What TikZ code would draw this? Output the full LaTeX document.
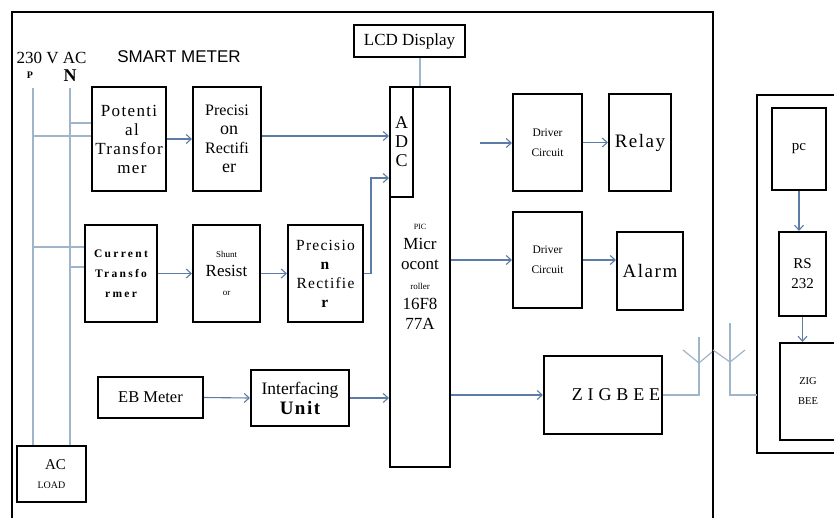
\documentclass[tikz,border=0pt]{standalone}
\usepackage{fontspec}
\setmainfont{Liberation Serif}
\setsansfont{Liberation Sans}
\newfontfamily\spaced[LetterSpace=8]{Liberation Serif}
\newfontfamily\widespaced[LetterSpace=20]{Liberation Serif}
\newfontfamily\zigfont[LetterSpace=27]{Liberation Serif}
\usetikzlibrary{arrows.meta}

\definecolor{sigblue}{RGB}{92,124,166}
\definecolor{wiregray}{RGB}{160,180,202}
\newcommand{\fsz}[2]{\fontsize{#1}{#2}\selectfont}

\tikzset{
  block/.style={draw=black, line width=2pt, inner sep=0pt, align=center},
  sig/.style={draw=sigblue, line width=1.1pt, -{Straight Barb[length=5pt,width=9pt]}},
  wire/.style={draw=wiregray, line width=1.6pt},
  frame/.style={draw=black, line width=1.6pt},
}

\begin{document}
\begin{tikzpicture}[x=1pt, y=-1pt]
    \useasboundingbox (0,0) rectangle (834,517);

    % Rahmen des Smart Meters und des PC-Teils
    \draw[frame] (12,530) -- (12,12) -- (713,12) -- (713,530);
    \coordinate (rbox) at (757,95);
    \draw[frame] (845,95) -- (rbox) -- (757,453) -- (845,453);
    \node[font=\sffamily\fsz{17}{20}] (title) at (179,56.5) {SMART METER};

    % Netzanschluss
    \node[inner sep=0pt, font=\fsz{17}{20}] (vac) at (51.5,58) {230 V AC};
    \node[inner sep=0pt, font=\bfseries\fsz{10}{12}] (p) at (30,75) {P};
    \node[inner sep=0pt, font=\bfseries\fsz{18}{20}] (n) at (70,75.5) {N};
    \coordinate (ptop) at (33,88);
    \coordinate (ntop) at (70,88);

    % Bloecke
    \node[block, minimum width=74pt, minimum height=104pt, font=\spaced\fsz{17}{19}] (ptr) at (129,139)
        {Potenti\\\hspace*{6pt}al\\Transfor\\\hspace*{6pt}mer};
    \node[block, minimum width=68pt, minimum height=104pt, font=\fsz{16}{19}] (pr1) at (227,139)
        {Precisi\\\hspace*{4pt}{\fsz{18}{19}on}\\Rectifi\\\hspace*{4pt}{\fsz{18}{19}er}};
    \node[block, minimum width=72pt, minimum height=97pt, font=\widespaced\bfseries\fsz{11.5}{20}] (ct) at (121,273.5)
        {Current\\Transfo\\rmer};
    \node[block, minimum width=67pt, minimum height=97pt, font=\fsz{17}{19}] (sr) at (226.5,273.5)
        {{\fsz{9}{11}Shunt}\\Resist\\{\fsz{9}{11}or}};
    \node[block, minimum width=75pt, minimum height=97pt, font=\spaced\fsz{15.5}{19}] (pr2) at (325.5,273.5)
        {Precisio\\\textbf{n}\\Rectifie\\\textbf{r}};
    \node[block, minimum width=111pt, minimum height=32pt, font=\fsz{17}{18}] (lcd) at (409.5,41) {LCD Display};
    \node[block, minimum width=60pt, minimum height=380pt, font=\fsz{17}{20}] (pic) at (420,277)
        {{\fsz{8}{10}PIC}\\Micr\\ocont\\{\fsz{9}{10}roller}\\16F8\\77A};
    \node[block, minimum width=23pt, minimum height=110pt, font=\fsz{18}{19}] (adc) at (401.5,142) {A\\D\\C};
    \node[block, minimum width=69pt, minimum height=97pt, font=\fsz{11.5}{20}] (dc1) at (547.5,142.5) {Driver\\Circuit};
    \node[block, minimum width=62pt, minimum height=97pt, font=\spaced\fsz{19}{20}] (relay) at (640,142.5) {Relay};
    \node[block, minimum width=69pt, minimum height=96pt, font=\fsz{11.5}{20}] (dc2) at (547.5,260) {Driver\\Circuit};
    \node[block, minimum width=66pt, minimum height=78pt, font=\spaced\fsz{19}{20}] (alarm) at (650,271) {Alarm};
    \node[block, minimum width=105pt, minimum height=41pt, font=\fsz{16.5}{18}] (eb) at (150.5,397.5) {EB Meter};
    \node[block, minimum width=98pt, minimum height=56pt, font=\fsz{17.5}{20}] (iu) at (300,398)
        {Interfacing\\{\spaced\bfseries\fsz{19}{20}Unit}};
    \node[block, minimum width=118pt, minimum height=78pt, font=\zigfont\fsz{18}{20}] (zigbee) at (603,395)
        {\makebox[0pt]{\hspace*{26pt}ZIGBEE}};
    \node[block, minimum width=69pt, minimum height=56pt, font=\fsz{15}{19}] (acload) at (51.5,474)
        {\hspace*{8pt}AC\\{\fsz{10}{12}LOAD}};
    \node[block, minimum width=54pt, minimum height=82pt, font=\fsz{15}{18}] (pc) at (799,149) {pc};
    \node[block, minimum width=47pt, minimum height=84pt, font=\fsz{15}{20}] (rs) at (802.5,274) {RS\\232};
    \node[block, minimum width=56pt, minimum height=97pt, font=\fsz{10.5}{20}] (zb) at (808,391.5) {ZIG\\BEE};

    % Leitungen P und N
    \coordinate (ptn) at ([yshift=16pt]ptr.west);
    \coordinate (ptp) at ([yshift=3pt]ptr.west);
    \coordinate (ctp) at ([yshift=26.5pt]ct.west);
    \coordinate (ctn) at ([yshift=6.5pt]ct.west);
    \draw[wire] (ptop) -- (ptop |- acload.north);
    \draw[wire] (ntop) -- (ntop |- acload.north);
    \draw[wire] (ptn) -- (ntop |- ptn);
    \draw[wire] (ptp) -- (ptop |- ptp);
    \draw[wire] (ctp) -- (ptop |- ctp);
    \draw[wire] (ctn) -- (ntop |- ctn);
    \draw[wire] (pic.north |- lcd.south) -- (pic.north);

    % Signalpfeile
    \foreach \a/\b in {ptr/pr1, ct/sr, sr/pr2, eb/iu, dc1/relay}
        \draw[sig] (\a.east) -- (\b.west);
    \coordinate (prout) at ([yshift=3pt]pr1.east);
    \coordinate (adcin) at ([yshift=-36pt]adc.west);
    \draw[sig] (prout) -- (prout -| adc.west);
    \draw[sig] (pr2.east) -- ++(7,0) |- (adcin);
    \coordinate (dcin) at (480,143);
    \draw[sig] (dcin) -- (dcin -| dc1.west);
    \draw[sig] (pic.east |- dc2.west) -- (dc2.west);
    \draw[sig] (dc2.east) -- (dc2.east -| alarm.west);
    \draw[sig] (iu.east) -- (iu.east -| pic.west);
    \draw[sig] (pic.east |- zigbee.west) -- (zigbee.west);
    \draw[sig] (pc.south) -- (pc.south |- rs.north);
    \draw[sig] (rs.south) -- (rs.south |- zb.north);

    % Antennen
    \coordinate (ant1) at (699,363);
    \coordinate (ant2) at (730,362);
    \draw[wire, line width=1.2pt] (zigbee.east) -| (ant1) -- ++(0,-26);
    \draw[wire, line width=1.2pt] (ant1) -- ++(-16,-13);
    \draw[wire, line width=1.2pt] (ant1) -- ++(13,-11);
    \draw[wire, line width=1.2pt] (rbox |- zigbee.east) -| (ant2) -- ++(0,-39);
    \draw[wire, line width=1.2pt] (ant2) -- ++(-17,-12);
    \draw[wire, line width=1.2pt] (ant2) -- ++(15,-12);
\end{tikzpicture}
\end{document}
